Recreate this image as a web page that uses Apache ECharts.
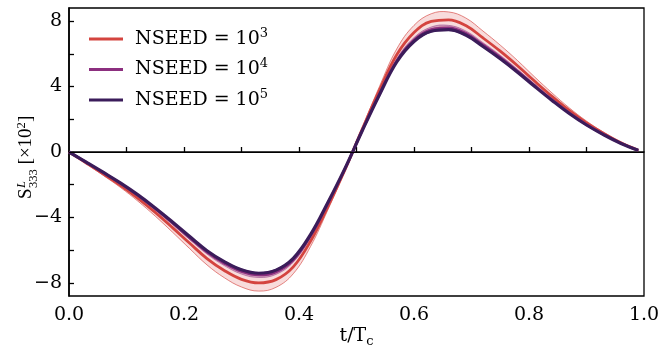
<!DOCTYPE html>
<html>
<head>
<meta charset="utf-8">
<script src="https://cdn.jsdelivr.net/npm/echarts@6/dist/echarts.min.js"></script>
<style>html,body{margin:0;padding:0;background:#fff;}#c{width:661px;height:347px;}</style>
</head>
<body>
<div id="c"></div>
<script>
// ---- data ----
const tValues = [0, 0.03, 0.06, 0.09, 0.12, 0.15, 0.18, 0.21, 0.24, 0.27, 0.30, 0.33, 0.36, 0.39, 0.42, 0.45, 0.48, 0.51, 0.54, 0.57, 0.60, 0.63, 0.66, 0.69, 0.72, 0.75, 0.78, 0.81, 0.84, 0.87, 0.90, 0.93, 0.96, 0.99];
const seedNames = ['NSEED = 10^3', 'NSEED = 10^4', 'NSEED = 10^5'];
const seedExps = ['3', '4', '5'];
const meanSeed3 = [0, -0.67, -1.35, -2.05, -2.83, -3.69, -4.62, -5.58, -6.51, -7.24, -7.78, -8.0, -7.8, -7.02, -5.45, -3.35, -1.08, 1.4, 3.78, 5.94, 7.3, 7.98, 8.08, 7.73, 6.97, 6.16, 5.27, 4.32, 3.4, 2.54, 1.78, 1.13, 0.56, 0.11];
const errSeed3 = [0, 0.05, 0.09, 0.13, 0.18, 0.23, 0.28, 0.33, 0.39, 0.44, 0.47, 0.5, 0.47, 0.42, 0.33, 0.2, 0.07, 0.09, 0.23, 0.36, 0.44, 0.47, 0.48, 0.46, 0.42, 0.37, 0.32, 0.26, 0.21, 0.16, 0.11, 0.07, 0.04, 0.01];
const meanSeed4 = [0, -0.63, -1.27, -1.93, -2.66, -3.47, -4.34, -5.25, -6.12, -6.8, -7.31, -7.52, -7.33, -6.6, -5.13, -3.15, -1.02, 1.32, 3.55, 5.58, 6.85, 7.49, 7.59, 7.26, 6.55, 5.79, 4.95, 4.06, 3.2, 2.39, 1.67, 1.07, 0.53, 0.1];
const errSeed4 = [0, 0.01, 0.03, 0.04, 0.05, 0.07, 0.09, 0.1, 0.12, 0.14, 0.15, 0.15, 0.15, 0.13, 0.1, 0.06, 0.02, 0.03, 0.07, 0.11, 0.14, 0.15, 0.15, 0.14, 0.13, 0.12, 0.1, 0.08, 0.06, 0.05, 0.03, 0.02, 0.01, 0];
const meanSeed5 = [0, -0.62, -1.25, -1.9, -2.62, -3.42, -4.28, -5.17, -6.03, -6.7, -7.2, -7.41, -7.22, -6.5, -5.05, -3.1, -1.0, 1.3, 3.5, 5.5, 6.75, 7.38, 7.475, 7.15, 6.45, 5.7, 4.88, 4.0, 3.15, 2.35, 1.65, 1.05, 0.52, 0.1];
const errSeed5 = [0, 0.01, 0.01, 0.01, 0.02, 0.02, 0.03, 0.03, 0.04, 0.04, 0.05, 0.05, 0.05, 0.04, 0.03, 0.02, 0.01, 0.01, 0.02, 0.03, 0.04, 0.05, 0.05, 0.05, 0.04, 0.04, 0.03, 0.03, 0.02, 0.02, 0.01, 0.01, 0.01, 0];
const xTickLabels = [0, 0.2, 0.4, 0.6, 0.8, 1.0];
const xMinorTicks = [0.1, 0.2, 0.3, 0.4, 0.5, 0.6, 0.7, 0.8, 0.9];
const yTickLabels = [-8, -4, 0, 4, 8];
const yMinorTicks = [-8, -6, -4, -2, 0, 2, 4, 6, 8];

const colors = ['#d4443f', '#8c2f7f', '#3b1c5a'];
const bandFill = ['rgba(220,80,80,0.2)', 'rgba(140,47,127,0.35)', 'rgba(59,28,90,0.4)'];
const bandEdge = ['rgba(212,68,63,0.8)', 'rgba(140,47,127,0.6)', 'rgba(59,28,90,0.6)'];
const lineWidths = [2.8, 2.6, 3.2];
const means = [meanSeed3, meanSeed4, meanSeed5];
const errs = [errSeed3, errSeed4, errSeed5];
const SMOOTH = 0.4;

const FONT = 'DejaVu Serif';
const series = [];
for (let k = 0; k < 3; k++) {
  const band = {
    name: 'band' + k, type: 'custom', silent: true,
    data: [[tValues[0], means[k][0]]],
    encode: { x: 0, y: 1 },
    renderItem: function (params, api) {
      const up = tValues.map((t, i) => api.coord([t, means[k][i] + errs[k][i]]));
      const lo = tValues.map((t, i) => api.coord([t, means[k][i] - errs[k][i]])).reverse();
      return {
        type: 'polygon',
        shape: { points: up.concat(lo), smooth: SMOOTH },
        style: { fill: bandFill[k], stroke: bandEdge[k], lineWidth: 0.8 }
      };
    }
  };
  if (k === 0) {
    band.markLine = {
      silent: true, symbol: 'none', label: { show: false },
      lineStyle: { color: '#000', width: 1.2, type: 'solid' },
      data: [{ yAxis: 0 }]
    };
  }
  series.push(band);
  series.push({
    name: seedNames[k], type: 'line', data: tValues.map((t, i) => [t, means[k][i]]),
    smooth: SMOOTH, showSymbol: false,
    color: colors[k], lineStyle: { color: colors[k], width: lineWidths[k] }
  });
}

const chart = echarts.init(document.getElementById('c'), null, { renderer: 'canvas' });
const tStyle = { fill: '#000', align: 'left', verticalAlign: 'bottom', textAlign: 'left', textVerticalAlign: 'bottom' };
function txt(x, y, text, font) {
  return { type: 'text', x: x, y: y, style: Object.assign({ text: text, font: font }, tStyle) };
}
chart.setOption({
  animation: false,
  backgroundColor: '#fff',
  textStyle: { fontFamily: FONT },
  grid: { left: 69, right: 17, top: 8, bottom: 51, containLabel: false, outerBoundsMode: 'none',
    show: true, borderColor: '#000', borderWidth: 1.3, backgroundColor: 'transparent' },
  legend: {
    data: seedNames,
    orient: 'vertical', left: 84, top: 22, itemGap: 9,
    itemWidth: 34, itemHeight: 3, icon: 'rect',
    formatter: function (name) {
      const k = seedNames.indexOf(name);
      return '{n|NSEED = 10}{s|' + seedExps[k] + '}';
    },
    textStyle: {
      padding: [0, 0, 0, 7],
      rich: {
        n: { fontFamily: FONT, fontSize: 19, color: '#000', lineHeight: 24, verticalAlign: 'middle' },
        s: { fontFamily: FONT, fontSize: 13, color: '#000', lineHeight: 13, verticalAlign: 'top' }
      }
    }
  },
  xAxis: {
    type: 'value', min: 0, max: 1,
    name: '{a|t/T}{b|c}', nameLocation: 'middle', nameGap: 28, nameMoveOverlap: false,
    nameTextStyle: {
      rich: {
        a: { fontFamily: FONT, fontSize: 19, color: '#000', lineHeight: 24, verticalAlign: 'middle' },
        b: { fontFamily: FONT, fontSize: 13, color: '#000', lineHeight: 13, verticalAlign: 'bottom' }
      }
    },
    axisLine: { show: true, lineStyle: { color: '#000', width: 1.6 } },
    axisTick: { show: true, inside: true, length: 5, customValues: xMinorTicks, lineStyle: { color: '#000', width: 1.3 } },
    axisLabel: { customValues: xTickLabels, fontFamily: FONT, fontSize: 19, color: '#000', margin: 10,
      formatter: v => v.toFixed(1) },
    splitLine: { show: false }
  },
  yAxis: {
    type: 'value', min: -8.8, max: 8.8,
    axisLine: { show: true, lineStyle: { color: '#000', width: 1.6 } },
    axisTick: { show: true, inside: true, length: 5, customValues: yMinorTicks, lineStyle: { color: '#000', width: 1.3 } },
    axisLabel: { customValues: yTickLabels, fontFamily: FONT, fontSize: 19, color: '#000', margin: 7,
      formatter: v => (v < 0 ? '\u2212' + Math.abs(v) : String(v)) },
    splitLine: { show: false }
  },
  graphic: [{
    type: 'group', x: 36, y: 158, rotation: Math.PI / 2,
    children: [
      txt(-41, 0, 'S', '19px "Liberation Serif"'),
      txt(-30, -8, 'L', 'italic 12.5px "Liberation Serif"'),
      txt(-30, 4, '333', '12.5px "Liberation Serif"'),
      txt(-11.2, 0, ' [\u00d710', '19px "Liberation Serif"'),
      txt(29.6, -8, '2', '12.5px "Liberation Serif"'),
      txt(35.9, 0, ']', '19px "Liberation Serif"')
    ]
  }],
  series: series
});
</script>
</body>
</html>
